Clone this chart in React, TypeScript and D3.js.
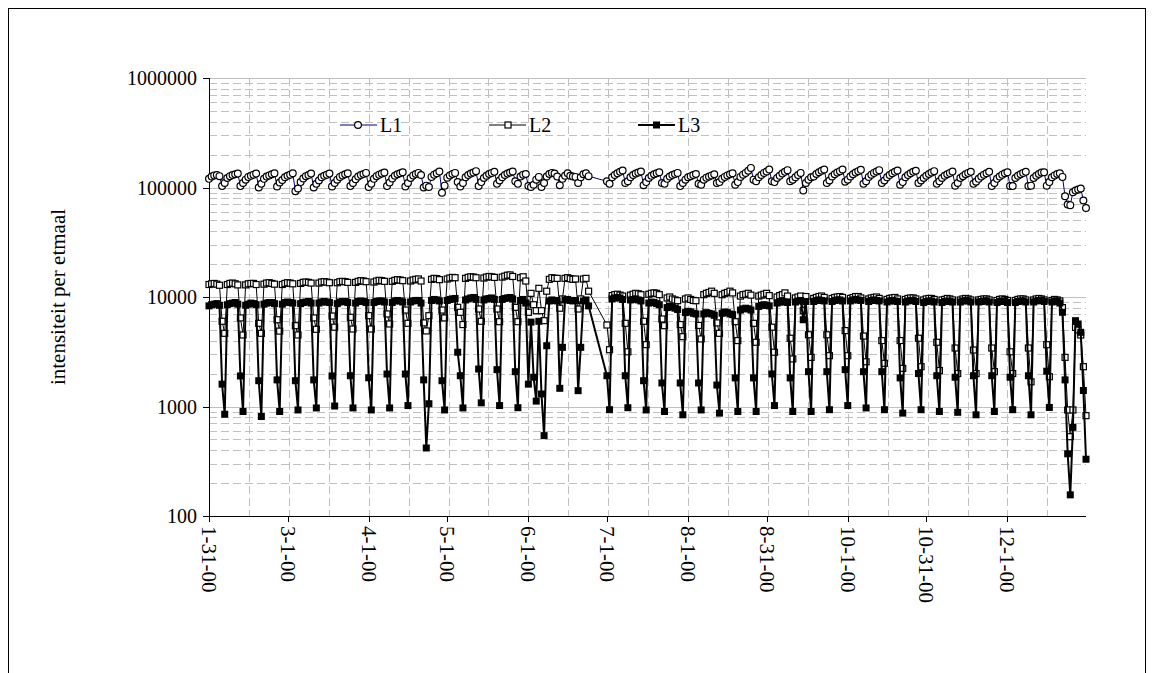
import React from 'react';
import * as d3 from 'd3';

// daily values, one row per week (Mon..Sun), first day 31 Jan 2000
const l1Weeks: (number | null)[][] = [
  [120000, 126000, 129000, 130000, 127000, 103000, 110000],
  [122000, 127000, 130000, 132000, 134000, 103000, 110000],
  [118000, 125000, 128000, 131000, 134000, 100000, 108000],
  [120000, 126000, 129000, 132000, 135000, 102000, 111000],
  [117000, 124000, 128000, 131000, 135000, 92500, 98000],
  [112000, 121000, 127000, 130000, 134000, 100000, 108000],
  [116000, 124000, 128000, 131000, 134000, 102000, 110000],
  [118000, 125000, 129000, 132000, 135000, 103000, 110000],
  [119000, 126000, 130000, 133000, 136000, 101000, 108000],
  [120000, 127000, 131000, 134000, 137000, 103000, 111000],
  [121000, 128000, 132000, 135000, 138000, 102000, 110000],
  [122000, 129000, 133000, 136000, 130000, 100000, 104000],
  [101000, 125000, 131000, 135000, 140000, 89500, 104000],
  [123000, 129000, 133000, 136000, 112000, 102000, 110000],
  [124000, 130000, 134000, 137000, 141000, 103000, 112000],
  [122000, 128000, 133000, 136000, 139000, 108000, 116000],
  [124000, 130000, 134000, 137000, 140000, 114000, 108000],
  [126000, 131000, 133000, 103000, 101000, 106000, 118000],
  [125000, 101000, 110000, 126000, 133000, 136000, 134000],
  [126000, 105000, 120000, 128000, 135000, 128000, 126000],
  [125000, 110000, 124000, 132000, 135000, 127000, null],
  [null, null, null, null, null, 114000, 108000],
  [124000, 130000, 135000, 139000, 143000, 110000, 114000],
  [124000, 130000, 134000, 137000, 140000, 105000, 112000],
  [122000, 128000, 132000, 135000, 138000, 110000, 108000],
  [120000, 126000, 130000, 133000, 136000, 103000, 110000],
  [118000, 124000, 127000, 130000, 133000, 108000, 106000],
  [118000, 123000, 126000, 129000, 132000, 110000, 112000],
  [120000, 125000, 129000, 132000, 135000, 106000, 112000],
  [125000, 131000, 136000, 142000, 151000, 118000, 114000],
  [124000, 130000, 136000, 140000, 146000, 114000, 112000],
  [122000, 128000, 134000, 139000, 144000, 114000, 118000],
  [124000, 130000, 136000, 94000, 110000, 118000, 124000],
  [126000, 133000, 138000, 142000, 146000, 110000, 116000],
  [126000, 132000, 137000, 141000, 146000, 113000, 118000],
  [126000, 132000, 137000, 141000, 145000, 108000, 114000],
  [125000, 131000, 136000, 140000, 144000, 110000, 116000],
  [124000, 130000, 135000, 139000, 143000, 106000, 112000],
  [124000, 130000, 135000, 139000, 142000, 110000, 116000],
  [122000, 128000, 133000, 137000, 141000, 108000, 114000],
  [122000, 128000, 132000, 136000, 140000, 104000, 110000],
  [122000, 127000, 132000, 136000, 139000, 108000, 113000],
  [120000, 126000, 131000, 135000, 139000, 103000, 110000],
  [120000, 126000, 131000, 135000, 138000, 103000, 103000],
  [122000, 128000, 132000, 136000, 139000, 103000, 104000],
  [122000, 128000, 133000, 137000, 138000, 104000, 112000],
  [124000, 129000, 133000, 135000, 125000, 83300, 70000],
  [69000, 90600, 94000, 96000, 97900, 76000, 65000],
];

const l2Weeks: (number | null)[][] = [
  [13000, 13200, 13300, 13100, 12800, 6000, 4660],
  [13000, 13300, 13400, 13200, 12900, 6440, 4500],
  [12900, 13200, 13300, 13300, 13000, 5750, 4660],
  [13100, 13400, 13500, 13300, 13100, 6200, 4880],
  [13000, 13300, 13500, 13400, 13200, 5470, 4500],
  [13300, 13600, 13700, 13600, 13400, 6440, 5070],
  [13400, 13700, 13800, 13700, 13500, 6700, 5300],
  [13500, 13800, 13900, 13800, 13600, 6520, 5100],
  [13600, 13900, 14100, 14000, 13800, 6750, 5100],
  [13700, 14000, 14200, 14100, 13900, 7000, 5670],
  [13900, 14200, 14400, 14300, 14100, 7600, 5750],
  [14000, 14300, 14500, 14600, 14000, 5800, 4900],
  [6750, 14500, 14800, 14700, 14400, 7600, 6440],
  [14600, 14900, 15100, 15000, 8050, 7250, 5600],
  [14800, 15100, 15300, 15200, 15000, 7770, 6000],
  [14900, 15200, 15400, 15300, 15100, 7770, 5950],
  [15200, 15500, 15800, 15900, 15400, 8050, 5950],
  [15000, 15300, 14000, 7250, 10800, 8500, 7500],
  [12000, 7500, 6080, 11300, 14500, 15000, 14800],
  [14800, 7900, 9600, 14800, 15000, 14700, 14500],
  [14600, 7770, 9600, 14600, 14800, 11300, null],
  [null, null, null, null, null, 5550, 3300],
  [10300, 10500, 10600, 10400, 10200, 5750, 3160],
  [10400, 10600, 10800, 10700, 10500, 6000, 3670],
  [10600, 10800, 10900, 10800, 10500, 6300, 5470],
  [9800, 10000, 9600, 9400, 9250, 5600, 4340],
  [9600, 9800, 9500, 9300, 9250, 5500, 4140],
  [10500, 10800, 11000, 11300, 10800, 5800, 4660],
  [10500, 10800, 11000, 11300, 10900, 5950, 4000],
  [10200, 10500, 10600, 10800, 10400, 5750, 3860],
  [10200, 10400, 10600, 10800, 10300, 5300, 3130],
  [10000, 10300, 10500, 10900, 10200, 4200, 2720],
  [9800, 10000, 10200, 7500, 10100, 4520, 2810],
  [9700, 9900, 10100, 10200, 9900, 4520, 2910],
  [9700, 9900, 10000, 10100, 9900, 4930, 2910],
  [9700, 9900, 10100, 10100, 9800, 4400, 2560],
  [9600, 9800, 9900, 10000, 9700, 4000, 2480],
  [9500, 9700, 9800, 9900, 9600, 4000, 2230],
  [9500, 9700, 9800, 9800, 9600, 4200, 2310],
  [9400, 9600, 9700, 9700, 9500, 3860, 2130],
  [9400, 9500, 9700, 9600, 9400, 3420, 2000],
  [9400, 9600, 9700, 9600, 9400, 3280, 2000],
  [9400, 9500, 9600, 9600, 9400, 3420, 2080],
  [9300, 9500, 9600, 9500, 9300, 3160, 2000],
  [9300, 9500, 9600, 9600, 9400, 3420, 1680],
  [9400, 9600, 9700, 9600, 9400, 3670, 1870],
  [9300, 9500, 9400, 9200, 8000, 2810, 930],
  [530, 930, 5280, 5000, 4500, 2310, 825],
];

const l3Weeks: (number | null)[][] = [
  [8300, 8500, 8600, 8700, 8400, 1600, 850],
  [8500, 8700, 8800, 8900, 8600, 1900, 900],
  [8400, 8600, 8800, 8700, 8500, 1720, 810],
  [8600, 8800, 8900, 8900, 8700, 1750, 900],
  [8600, 8900, 9000, 8900, 8800, 1720, 930],
  [8700, 8900, 9000, 9100, 8800, 1750, 970],
  [8800, 9000, 9100, 9000, 8900, 1900, 1010],
  [8700, 9000, 9100, 9100, 8900, 1910, 970],
  [8800, 9100, 9200, 9100, 8900, 1830, 930],
  [8900, 9100, 9200, 9200, 9000, 1980, 970],
  [8900, 9200, 9300, 9200, 9000, 1980, 1020],
  [9000, 9200, 9300, 9300, 8800, 1750, 418],
  [1060, 9300, 9500, 9400, 9200, 1720, 930],
  [9300, 9500, 9600, 9700, 3130, 1910, 970],
  [9400, 9600, 9800, 9900, 9500, 2200, 1080],
  [9400, 9600, 9700, 9800, 9500, 2170, 1020],
  [9500, 9700, 9800, 9900, 9600, 2080, 975],
  [9300, 9500, 8800, 1600, 5900, 1850, 1120],
  [6000, 1300, 542, 3590, 9200, 9400, 9300],
  [9200, 1466, 3470, 9400, 9500, 9300, 9200],
  [9300, 1395, 3470, 9200, 9400, 8300, null],
  [null, null, null, null, null, 1910, 935],
  [9600, 9800, 9900, 9800, 9500, 1910, 975],
  [9400, 9500, 9600, 9400, 9200, 1720, 930],
  [8800, 9000, 8900, 8700, 8500, 1640, 900],
  [8000, 8200, 8100, 7900, 7700, 1640, 840],
  [7200, 7400, 7300, 7100, 7000, 1640, 930],
  [7000, 7200, 7100, 7000, 6800, 1570, 870],
  [7100, 7300, 7200, 7000, 6900, 1825, 900],
  [7600, 7800, 7900, 7800, 7600, 1825, 900],
  [8200, 8400, 8500, 8400, 8300, 1980, 1020],
  [8800, 9000, 9100, 9000, 8900, 1825, 900],
  [9000, 9200, 9300, 6200, 9100, 2080, 900],
  [9100, 9300, 9400, 9300, 9200, 2080, 935],
  [9100, 9300, 9400, 9400, 9200, 2170, 1020],
  [9200, 9400, 9500, 9400, 9300, 2080, 970],
  [9100, 9300, 9400, 9300, 9200, 2080, 935],
  [9000, 9200, 9300, 9200, 9100, 1825, 870],
  [9000, 9200, 9300, 9300, 9100, 2000, 935],
  [8900, 9100, 9200, 9200, 9000, 1910, 900],
  [8900, 9100, 9200, 9100, 9000, 1850, 885],
  [9000, 9200, 9300, 9200, 9000, 1910, 840],
  [9000, 9100, 9200, 9200, 9000, 1910, 900],
  [8900, 9100, 9200, 9100, 8900, 1850, 935],
  [8900, 9100, 9200, 9200, 9000, 1910, 840],
  [9000, 9200, 9300, 9300, 9100, 2100, 980],
  [9000, 9200, 9100, 8800, 7250, 1750, 370],
  [156, 645, 6080, 5670, 4760, 1400, 330],
];

const seriesNames = ['L1', 'L2', 'L3'];
const xTickLabels = ['1-31-00', '3-1-00', '4-1-00', '5-1-00', '6-1-00', '7-1-00', '8-1-00', '8-31-00', '10-1-00', '10-31-00', '12-1-00'];
const yTickValues = [100, 1000, 10000, 100000, 1000000];

const font = '"Liberation Serif", "Times New Roman", serif';
const margin = { left: 209, right: 1086, top: 78, bottom: 516 };

const dayOf = (i: number) => new Date(2000, 0, 31 + i);
const parseLabel = (s: string) => {
  const [m, d, yy] = s.split('-').map(Number);
  return new Date(2000 + yy, m - 1, d);
};
const toPoints = (weeks: (number | null)[][]) =>
  weeks
    .flat()
    .map((v, i) => ({ date: dayOf(i), v }))
    .filter((d) => d.v != null) as { date: Date; v: number }[];

const App = () => {
  const x = d3
    .scaleTime()
    .domain([dayOf(0), new Date(2000, 11, 31)])
    .range([margin.left, margin.right]);
  const y = d3.scaleLog().domain([100, 1000000]).range([margin.bottom, margin.top]);

  const minorY = yTickValues.slice(0, -1).flatMap((d) => d3.range(2, 10).map((m) => d * m));
  const vGrid = d3.range(1, 22).map((k) => new Date(dayOf(0).getTime() + k * 15.25 * 864e5));

  const line = d3
    .line<{ date: Date; v: number }>()
    .x((d) => x(d.date))
    .y((d) => y(d.v));

  const p1 = toPoints(l1Weeks);
  const p2 = toPoints(l2Weeks);
  const p3 = toPoints(l3Weeks);

  const legendX = [340, 489, 638];
  const legendY = 125;
  const snap = (v: number) => Math.round(v) + 0.5;

  return (
    <svg width={1154} height={673} style={{ position: 'absolute', left: 0, top: 0 }} fontFamily={font}>
      <rect x={0} y={0} width={1154} height={673} fill="#fff" />
      <rect x={8.5} y={8.5} width={1137} height={700} fill="none" stroke="#000" strokeWidth={1} />

      {/* grid */}
      <g stroke="#c0c0c0" strokeWidth={1}>
        {minorY.map((v) => (
          <line key={v} x1={margin.left} x2={margin.right} y1={snap(y(v))} y2={snap(y(v))} strokeDasharray="8,4" />
        ))}
        {yTickValues.slice(1).map((v) => (
          <line key={v} x1={margin.left} x2={margin.right} y1={snap(y(v))} y2={snap(y(v))} />
        ))}
        {vGrid.map((d, i) => (
          <line key={i} x1={snap(x(d))} x2={snap(x(d))} y1={margin.top} y2={margin.bottom} strokeDasharray="8,4" />
        ))}
      </g>

      {/* axes */}
      <g stroke="#000" strokeWidth={1}>
        <line x1={margin.left + 0.5} x2={margin.left + 0.5} y1={margin.top} y2={margin.bottom} />
        <line x1={margin.left} x2={margin.right} y1={margin.bottom + 0.5} y2={margin.bottom + 0.5} />
        {yTickValues.map((v) => (
          <line key={v} x1={margin.left - 6} x2={margin.left} y1={snap(y(v))} y2={snap(y(v))} />
        ))}
        {xTickLabels.map((s) => (
          <line key={s} x1={snap(x(parseLabel(s)))} x2={snap(x(parseLabel(s)))} y1={margin.bottom} y2={margin.bottom + 6} />
        ))}
      </g>
      <g fill="#000">
        {yTickValues.map((v) => (
          <text key={v} x={margin.left - 12} y={y(v)} textAnchor="end" dominantBaseline="central" fontSize={20}>
            {v}
          </text>
        ))}
        {xTickLabels.map((s) => (
          <text key={s} transform={`translate(${x(parseLabel(s))},${margin.bottom + 10}) rotate(90)`} dominantBaseline="central" fontSize={21}>
            {s}
          </text>
        ))}
      </g>
      <text transform={`translate(58,${(margin.top + margin.bottom) / 2}) rotate(-90)`} textAnchor="middle" dominantBaseline="central" fontSize={21}>
        intensiteit per etmaal
      </text>

      {/* L1 */}
      <path d={line(p1) || ''} fill="none" stroke="#000080" strokeWidth={1} />
      <g fill="#fff" stroke="#000" strokeWidth={1.2}>
        {p1.map((d, i) => (
          <circle key={i} cx={x(d.date)} cy={y(d.v)} r={3.4} />
        ))}
      </g>
      {/* L2 */}
      <path d={line(p2) || ''} fill="none" stroke="#000" strokeWidth={1} />
      <g fill="#fff" stroke="#000" strokeWidth={1.2}>
        {p2.map((d, i) => (
          <rect key={i} x={x(d.date) - 3} y={y(d.v) - 3} width={6} height={6} />
        ))}
      </g>
      {/* L3 */}
      <path d={line(p3) || ''} fill="none" stroke="#000" strokeWidth={2} />
      <g fill="#000">
        {p3.map((d, i) => (
          <rect key={i} x={x(d.date) - 3.5} y={y(d.v) - 3.5} width={7} height={7} />
        ))}
      </g>

      {/* legend */}
      <g fontSize={20}>
        {seriesNames.map((n, i) => {
          const lx = legendX[i];
          return (
            <g key={n}>
              <line x1={lx} x2={lx + 37} y1={legendY} y2={legendY} stroke={i === 0 ? '#000080' : '#000'} strokeWidth={i === 2 ? 2 : 1} />
              {i === 0 && <circle cx={lx + 18} cy={legendY} r={3.4} fill="#fff" stroke="#000" strokeWidth={1.2} />}
              {i === 1 && <rect x={lx + 16} y={legendY - 3} width={6} height={6} fill="#fff" stroke="#000" strokeWidth={1.2} />}
              {i === 2 && <rect x={lx + 15} y={legendY - 3.5} width={7} height={7} fill="#000" />}
              <text x={lx + 40} y={legendY} dominantBaseline="central">
                {n}
              </text>
            </g>
          );
        })}
      </g>
    </svg>
  );
};

export default App;
